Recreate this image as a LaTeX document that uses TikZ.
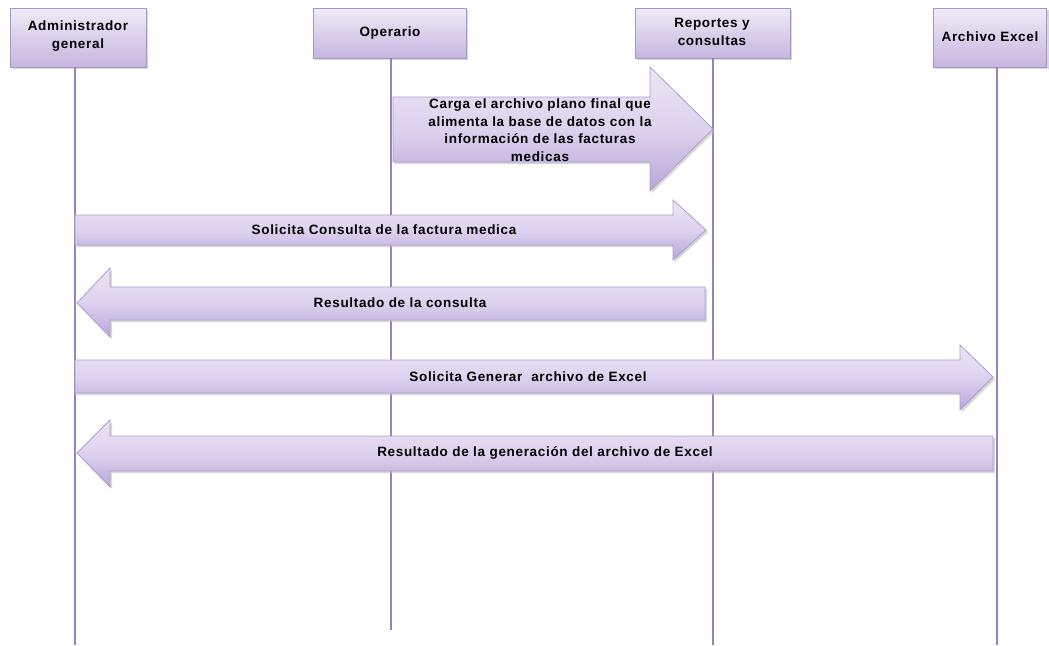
\documentclass[tikz,border=0pt]{standalone}
\usepackage{fontspec}
\setmainfont{Liberation Sans}
\newfontfamily\widefont[LetterSpace=5]{Liberation Sans}
\begin{document}
\begin{tikzpicture}[x=1pt,y=-1pt,
  lifeline/.style={draw=lifec,line width=1.3pt},
  headbox/.style={draw=boxedge,line width=0.8pt,top color=boxtop,bottom color=boxbot},
  blockarrow/.style={draw=arredge,line width=0.8pt,top color=arrtop,bottom color=arrbot,middle color=arrmid},
  shadowfill/.style={fill=black!25,opacity=0.6},
  hlabel/.style={font=\widefont\bfseries\fontsize{13.5}{17.5}\selectfont,align=center,text=black,inner sep=0pt},
  alabel/.style={font=\widefont\bfseries\fontsize{13.5}{17.5}\selectfont,align=center,text=black,inner sep=0pt}]
\definecolor{lifec}{HTML}{9583BA}
\definecolor{boxedge}{HTML}{A895CA}
\definecolor{boxtop}{HTML}{F0EBF7}
\definecolor{boxbot}{HTML}{C6B5DF}
\definecolor{arredge}{HTML}{AE9CD0}
\definecolor{arrtop}{HTML}{ECE5F5}
\definecolor{arrmid}{HTML}{DDD2EE}
\definecolor{arrbot}{HTML}{B9A6D8}
\useasboundingbox (0,0) rectangle (1049,645);
\fill[white] (0,0) rectangle (1049,645);

% header boxes
\fill[shadowfill] (12,10) rectangle (148,69);
\fill[shadowfill] (315,10) rectangle (468,60);
\fill[shadowfill] (637,10) rectangle (792,60);
\fill[shadowfill] (935,10) rectangle (1049,69);
\path[headbox] (10,8) rectangle (146,67);
\path[headbox] (313,8) rectangle (466,58);
\path[headbox] (635,8) rectangle (790,58);
\path[headbox] (933,8) rectangle (1046,67);
\node[hlabel] (admin) at (78,36) {Administrador\\general};
\node[hlabel] (oper) at (390,33) {Operario};
\node[hlabel] (rep) at (712,32) {Reportes y\\consultas};
\node[hlabel] (excel) at (990,37) {Archivo Excel};

% lifelines
\coordinate (adminEnd) at (75,645);
\coordinate (operEnd) at (391,630);
\coordinate (repEnd) at (713,645);
\coordinate (excelEnd) at (997,645);
\draw[lifeline] (75,67) -- (adminEnd);
\draw[lifeline] (391,58) -- (operEnd);
\draw[lifeline] (713,58) -- (repEnd);
\draw[lifeline] (997,67) -- (excelEnd);

% arrow 1: Carga
\fill[shadowfill] (395,99) -- (652,99) -- (652,69) -- (715,131) -- (652,193) -- (652,164) -- (395,164) -- cycle;
\path[blockarrow] (393,97) -- (650,97) -- (650,67) -- (713,129) -- (650,191) -- (650,162) -- (393,162) -- cycle;
\node[alabel] (carga) at (540,130) {Carga el archivo plano final que\\alimenta la base de datos con la\\información de las facturas\\medicas};

% arrow 2: Solicita Consulta
\fill[shadowfill] (77,217) -- (675,217) -- (675,202) -- (708,232) -- (675,262) -- (675,247) -- (77,247) -- cycle;
\path[blockarrow] (75,215) -- (673,215) -- (673,200) -- (706,230) -- (673,260) -- (673,245) -- (75,245) -- cycle;
\node[alabel] (solcons) at (384,230) {Solicita Consulta de la factura medica};

% arrow 3: Resultado consulta
\fill[shadowfill] (79,305) -- (112,270) -- (112,289) -- (707,289) -- (707,322) -- (112,322) -- (112,339) -- cycle;
\path[blockarrow] (77,303) -- (110,268) -- (110,287) -- (705,287) -- (705,320) -- (110,320) -- (110,337) -- cycle;
\node[alabel] (rescons) at (400,303) {Resultado de la consulta};

% arrow 4: Solicita Generar
\fill[shadowfill] (77,362) -- (962,362) -- (962,347) -- (995,379) -- (962,412) -- (962,395) -- (77,395) -- cycle;
\path[blockarrow] (75,360) -- (960,360) -- (960,345) -- (993,377) -- (960,410) -- (960,393) -- (75,393) -- cycle;
\node[alabel] (solgen) at (528,377) {Solicita Generar\ \ archivo de Excel};

% arrow 5: Resultado generacion
\fill[shadowfill] (79,455) -- (112,422) -- (112,438) -- (995,438) -- (995,473) -- (112,473) -- (112,489) -- cycle;
\path[blockarrow] (77,453) -- (110,420) -- (110,436) -- (993,436) -- (993,471) -- (110,471) -- (110,487) -- cycle;
\node[alabel] (resgen) at (545,453) {Resultado de la generación del archivo de Excel};
\end{tikzpicture}
\end{document}
